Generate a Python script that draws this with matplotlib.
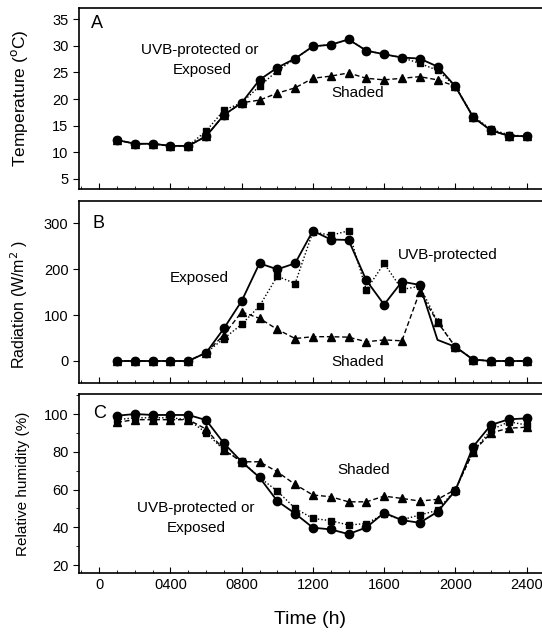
import matplotlib
matplotlib.use('Agg')
import matplotlib.pyplot as plt
from matplotlib.ticker import MultipleLocator, FixedLocator

plt.rcParams['font.family'] = ['Liberation Sans', 'DejaVu Sans']

hours = [100 * h for h in range(1, 25)]
xticks = [0, 400, 800, 1200, 1600, 2000, 2400]
xticklabels = ['0', '0400', '0800', '1200', '1600', '2000', '2400']

# temperature (C)
temp_exposed = [12.3, 11.6, 11.6, 11.2, 11.2, 13.0, 17.0, 19.3, 23.6, 25.9, 27.6, 29.9,
                30.2, 31.2, 29.1, 28.4, 27.8, 27.6, 26.1, 22.4, 16.6, 14.1, 13.1, 13.0]
temp_protected = [12.3, 11.6, 11.6, 11.2, 11.2, 14.0, 17.9, 19.3, 22.4, 25.3, 27.6, 29.9,
                  30.2, 31.2, 29.1, 28.4, 27.8, 26.7, 25.4, 22.4, 16.8, 14.3, 13.3, 13.0]
temp_shaded = [12.3, 11.6, 11.6, 11.2, 11.2, 13.0, 17.0, 19.3, 19.8, 21.1, 22.1, 23.9,
               24.3, 24.9, 23.9, 23.6, 23.9, 24.2, 23.6, 22.4, 16.6, 14.1, 13.1, 13.0]

# radiation (W/m2)
rad_exposed = [0, 0, 0, 0, 0, 18, 71, 131, 213, 200, 213, 284,
               265, 264, 176, 123, 173, 166, 46, 31, 3, 0, 0, 0]
rad_protected = [0, 0, 0, 0, 0, 18, 49, 80, 120, 185, 169, 282,
                 274, 284, 155, 213, 156, 163, 86, 31, 3, 0, 0, 0]
rad_shaded = [0, 0, 0, 0, 0, 18, 57, 107, 93, 69, 49, 53,
              53, 52, 42, 46, 44, 151, 85, 31, 3, 0, 0, 0]

# relative humidity (%)
rh_exposed = [99.1, 100, 99.5, 99.5, 99.5, 96.8, 84.5, 74.7, 66.4, 53.9, 47.3, 39.8,
              38.9, 36.4, 39.9, 47.7, 43.8, 42.4, 48.2, 59.4, 82.7, 94.2, 97.2, 97.7]
rh_protected = [97, 98, 98, 98, 97, 90.1, 80.9, 75, 66.4, 59.2, 50, 44.7,
                43.5, 41.2, 42, 47, 44, 46.5, 49, 60, 80, 91.5, 95.9, 94.2]
rh_shaded = [95.6, 97, 97, 97, 97, 92, 81, 74.7, 74.7, 69.4, 62.7, 57.1,
             56.2, 53.5, 53.5, 56.5, 55.3, 53.9, 54.8, 60, 80, 90, 92.5, 93]

fig = plt.figure(figsize=(5.42, 6.36), dpi=100)
W, H = 542, 636
left, right = 79, 542
panels = [(8, 189), (201, 383), (394, 573)]
axes = []
for top, bot in panels:
    ax = fig.add_axes([left / W, (H - bot) / H, (right - left) / W, (bot - top) / H])
    axes.append(ax)


def note(x, y, s, size=11, **kw):
    # place text by pixel position (from top-left) of its centre
    fig.text(x / W, 1 - y / H, s, fontsize=size, ha='center', va='center', **kw)


series = [
    (temp_exposed, temp_protected, temp_shaded),
    (rad_exposed, rad_protected, rad_shaded),
    (rh_exposed, rh_protected, rh_shaded),
]

for i, (ax, (exp_, prot, shad)) in enumerate(zip(axes, series)):
    ax.plot(hours, shad, color='black', lw=1.0, ls=(0, (3.5, 2)), marker='^', ms=6, zorder=2)
    ax.plot(hours, prot, color='black', lw=1.0, ls=(0, (1, 1.5)), marker='s', ms=5, zorder=3)
    # the reference shows no circle at 1900 h in the radiation panel
    every = [k for k in range(24) if not (i == 1 and k == 18)]
    ax.plot(hours, exp_, color='black', lw=1.3, ls='-', marker='o', ms=6,
            markevery=every, zorder=4)
    ax.set_xlim(-114, 2487)
    ax.spines['right'].set_visible(False)
    for s in ['left', 'top', 'bottom']:
        ax.spines[s].set_linewidth(1.2)
    ax.xaxis.set_major_locator(FixedLocator(xticks))
    ax.xaxis.set_minor_locator(MultipleLocator(100))
    ax.tick_params(axis='x', which='major', direction='in', length=4, width=0.8)
    ax.tick_params(axis='x', which='minor', direction='in', length=2, width=0.6)
    ax.tick_params(axis='y', which='major', direction='out', length=4, width=0.8, labelsize=10.5)
    ax.tick_params(axis='y', which='minor', direction='out', length=2.5, width=0.6)
    ax.yaxis.set_label_coords(-0.106, 0.5)

for ax in axes[:2]:
    ax.set_xticks(xticks)
    ax.set_xticklabels([])

a, b, c = axes
a.set_ylim(3.1, 37.1)
a.set_yticks([5, 10, 15, 20, 25, 30, 35])
a.set_ylabel('Temperature ($^{\\rm o}$C)', fontsize=12.5)
note(97, 24, 'A', 13)
note(200, 50, 'UVB-protected or')
note(202, 70, 'Exposed')
note(358, 93, 'Shaded')

b.set_ylim(-48, 349)
b.set_yticks([0, 100, 200, 300])
b.set_ylabel('Radiation (W/m$^2$ )', fontsize=11.5)
b.yaxis.set_label_coords(-0.106, 0.43)
note(99, 224, 'B', 13)
note(199, 278, 'Exposed')
note(448, 255, 'UVB-protected')
note(358, 362, 'Shaded')

c.set_ylim(15.8, 110.6)
c.set_yticks([20, 40, 60, 80, 100])
c.yaxis.set_minor_locator(MultipleLocator(10))
c.set_ylabel('Relative humidity (%)', fontsize=11)
c.set_xticklabels(xticklabels, fontsize=10.5)
c.set_xlabel('Time (h)', fontsize=14, labelpad=14)
note(100, 414, 'C', 13)
note(364, 470, 'Shaded')
note(196, 508, 'UVB-protected or')
note(196, 528, 'Exposed')

fig.savefig('out.png', dpi=100)
